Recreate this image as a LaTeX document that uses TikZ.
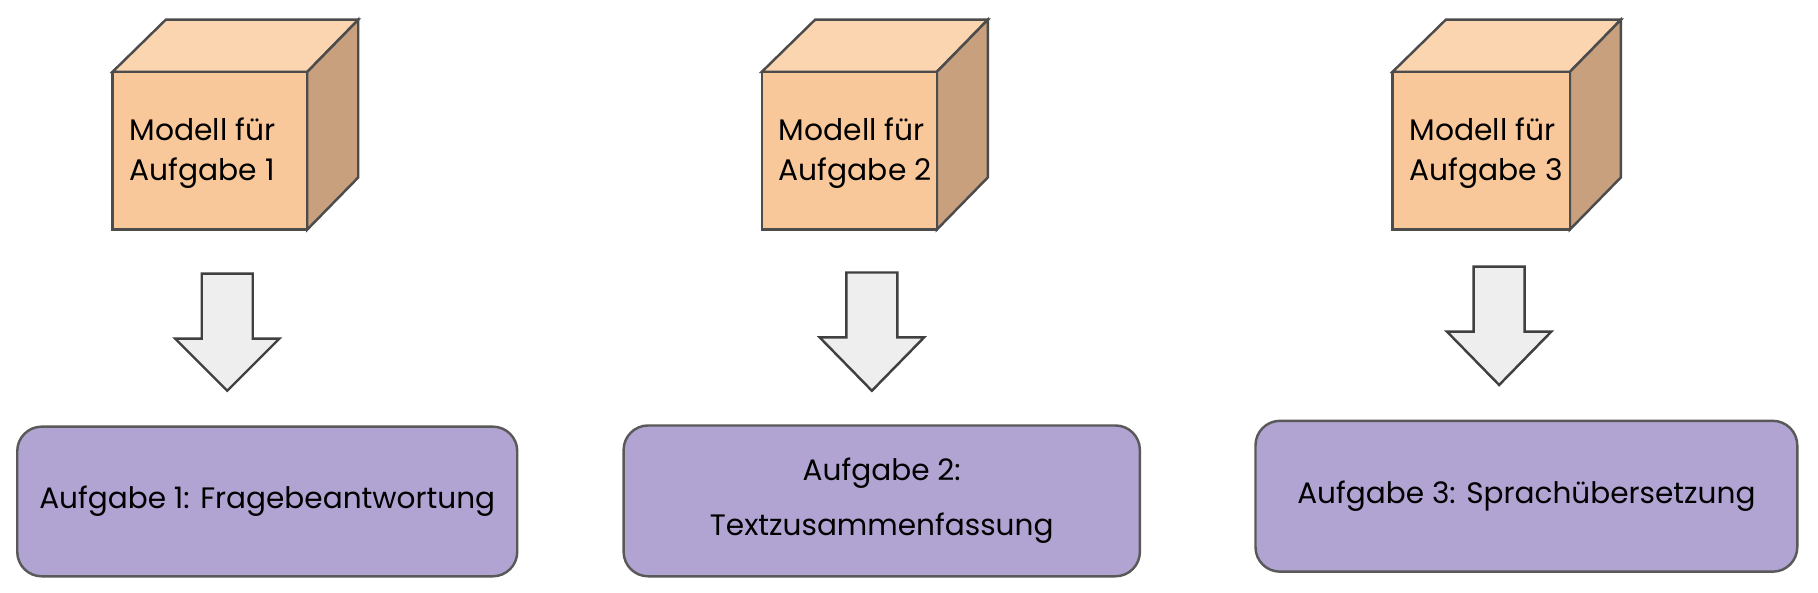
\documentclass[tikz,border=0pt]{standalone}
\usepackage{fontspec}
\setmainfont{Poppins}
\definecolor{cubefront}{HTML}{F9C89A}
\definecolor{cubetop}{HTML}{FAD5B0}
\definecolor{cubeside}{HTML}{C9A07E}
\definecolor{taskfill}{HTML}{B1A4D3}
\definecolor{arrowfill}{HTML}{EEEEEE}
\tikzset{
  cubeline/.style={draw=black!70, line width=0.6pt},
  bigarrow/.style={draw=black!75, fill=arrowfill, line width=0.6pt},
  task/.style={draw=black!65, fill=taskfill, rounded corners=6pt, line width=0.6pt, align=center, font=\fontsize{7.25}{13.5}\selectfont},
  cubetext/.style={align=left, anchor=west, inner sep=0pt, font=\fontsize{7.3}{10}\selectfont}
}
\begin{document}
\begin{tikzpicture}[x=0.01cm, y=-0.01cm]
\useasboundingbox[fill=white] (0,0) rectangle (1568,511);
% cubes: front left x, front right x, shaft x, arrow top y, tip y
\foreach \n/\a/\b/\s/\t/\p/\lab in {1/97/265/174/236/337/1, 2/657/808/730/235/337/2, 3/1201/1354/1271/230/332/3}{
  \fill[cubetop, cubeline] (\a,62) -- (\a+46,17) -- (\b+44,17) -- (\b,62) -- cycle;
  \fill[cubeside, cubeline] (\b,62) -- (\b+44,17) -- (\b+44,153) -- (\b,198) -- cycle;
  \fill[cubefront, cubeline] (\a,62) rectangle (\b,198);
  \node[cubetext] (model\n) at (\a+14,132) {Modell für\\Aufgabe \lab};
  \draw[bigarrow] (\s,\t) -- (\s+44,\t) -- (\s+44,\t+56) -- (\s+67,\t+56)
    -- (\s+22,\p) -- (\s-23,\t+56) -- (\s,\t+56) -- cycle;
}
\node[task, minimum width=4.31cm, minimum height=1.29cm] (task1) at (230.5,432.5) {Aufgabe 1: Fragebeantwortung};
\node[task, minimum width=4.45cm, minimum height=1.30cm] (task2) at (760.5,432) {Aufgabe 2:\\Textzusammenfassung};
\node[task, minimum width=4.67cm, minimum height=1.30cm] (task3) at (1316.5,428) {Aufgabe 3: Sprachübersetzung};
\end{tikzpicture}
\end{document}
